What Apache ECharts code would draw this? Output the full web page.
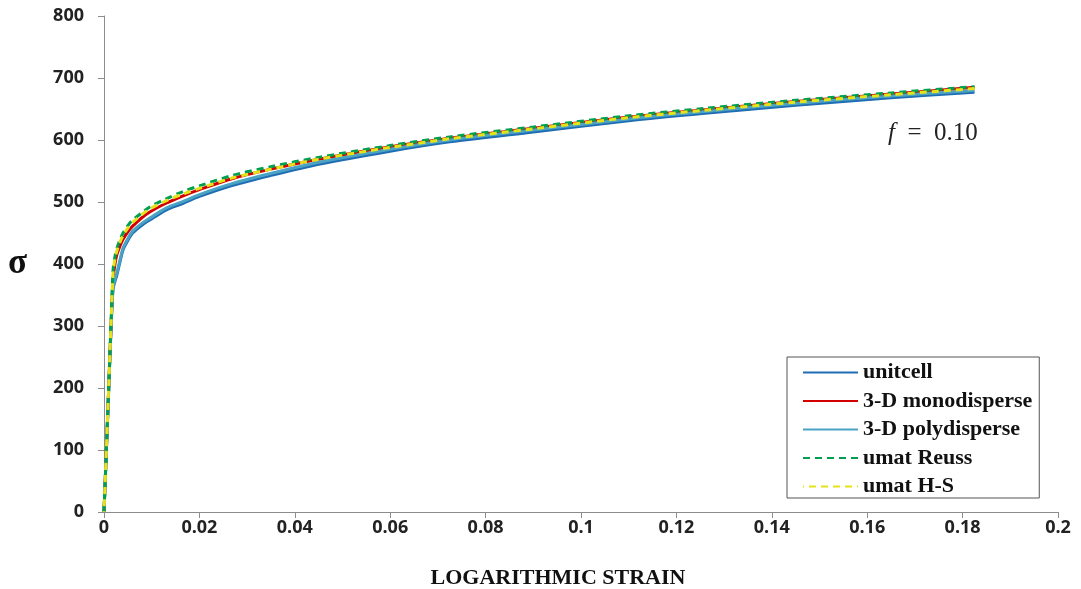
<!DOCTYPE html>
<html>
<head>
<meta charset="utf-8">
<script src="https://cdn.jsdelivr.net/npm/echarts@6/dist/echarts.min.js"></script>
<style>html,body{margin:0;padding:0;background:#fff;}#c{width:1081px;height:589px;}</style>
</head>
<body>
<div id="c"></div>
<script>
const strain = [0, 0.0005, 0.001, 0.0015, 0.0019, 0.0023, 0.0027, 0.0034, 0.004, 0.005, 0.006, 0.008, 0.0096, 0.013, 0.0166, 0.02, 0.027, 0.035, 0.045, 0.06, 0.0725, 0.09, 0.11, 0.126, 0.145, 0.165, 0.1825];
const unitcell      = [0, 100, 200, 300, 360, 372, 382, 405, 423, 438, 450, 463, 471, 487, 498, 509, 527, 543, 561, 582, 597, 613, 631, 643, 656, 668, 677];
const monodisperse  = [0, 100, 203, 305, 375, 400, 415, 430, 440, 452, 461, 475, 484, 498, 510, 520, 538, 553, 569, 589, 603, 619, 637, 649, 662, 674, 685];
const polydisperse  = [0, 100, 200, 302, 362, 375, 386, 408, 426, 441, 453, 466, 474, 490, 501, 512, 530, 546, 564, 585, 600, 616, 634, 646, 659, 671, 680];
const umatReuss     = [0, 100, 205, 310, 390, 412, 425, 440, 450, 462, 471, 483, 492, 505, 517, 526, 543, 557, 572, 591, 605, 621, 639, 651, 664, 676, 686];
const umatHS        = [0, 100, 205, 308, 385, 408, 421, 436, 446, 458, 467, 480, 489, 502, 513, 522, 539, 553, 569, 588, 602, 618, 636, 648, 661, 673, 683];
const seriesNames = ['unitcell', '3-D monodisperse', '3-D polydisperse', 'umat Reuss', 'umat H-S'];
const xTicks = [0, 0.02, 0.04, 0.06, 0.08, 0.1, 0.12, 0.14, 0.16, 0.18, 0.2];
const yTicks = [0, 100, 200, 300, 400, 500, 600, 700, 800];

function pairs(vals){ return strain.map((s,i)=>[s, vals[i]]); }
const styles = [
  {color:'#1F6DB3', type:'solid', width:3, offset:0},
  {color:'#D40000', type:'solid', width:3, offset:0},
  {color:'#4BA3C3', type:'solid', width:3, offset:0},
  {color:'#009E4F', type:[7,5], width:3, offset:0},
  {color:'#E3E31A', type:[7,5], width:3, offset:6}
];
const dataSets = [unitcell, monodisperse, polydisperse, umatReuss, umatHS];

const chart = echarts.init(document.getElementById('c'), null, {renderer:'canvas'});
const labelFont = {fontFamily:'"Open Sans", "Liberation Sans", sans-serif', fontWeight:'bold', fontSize:18, color:'#222'};
chart.setOption({
  animation:false,
  backgroundColor:'#fff',
  grid:{left:104, right:23, top:16, bottom:77, containLabel:false, outerBoundsMode:'none'},
  xAxis:{
    type:'value', min:0, max:0.2, interval:0.02,
    name:'LOGARITHMIC STRAIN', nameLocation:'middle', nameGap:55,
    nameTextStyle:{fontFamily:'"Liberation Serif", serif', fontWeight:'bold', fontSize:22, color:'#111', padding:[0,46,0,0]},
    axisLine:{show:true, lineStyle:{color:'#8c8c8c', width:1}},
    axisTick:{show:true, inside:false, length:6, lineStyle:{color:'#8c8c8c'}},
    splitLine:{show:false},
    axisLabel:Object.assign({margin:7, formatter:v=>String(parseFloat(v.toFixed(2)))}, labelFont)
  },
  yAxis:{
    type:'value', min:0, max:800, interval:100,
    name:'σ', nameLocation:'middle', nameGap:77, nameRotate:0,
    nameTextStyle:{fontFamily:'"Liberation Serif", serif', fontWeight:'bold', fontSize:35, color:'#111', padding:[24,0,0,0]},
    axisLine:{show:true, lineStyle:{color:'#8c8c8c', width:1}},
    axisTick:{show:true, inside:false, length:6, lineStyle:{color:'#8c8c8c'}},
    splitLine:{show:false},
    axisLabel:Object.assign({margin:20}, labelFont)
  },
  legend:{
    show:true, orient:'vertical', left:787, top:357,
    data:seriesNames,
    itemWidth:55, itemHeight:14, itemGap:6.5,
    padding:[4.5,7,0.5,15],
    borderColor:'#555', borderWidth:1, backgroundColor:'#fff',
    itemStyle:{color:'transparent', borderColor:'transparent', borderWidth:0},
    textStyle:{fontFamily:'"Liberation Serif", serif', fontWeight:'bold', fontSize:22, color:'#111'}
  },
  graphic:[{
    type:'text', left:888, top:121,
    style:{
      text:'{i|f}  =  0.10',
      font:'25px "Liberation Serif", serif',
      fill:'#222',
      rich:{i:{fontStyle:'italic', fontFamily:'"Liberation Serif", serif', fontSize:25, fill:'#222'}}
    }
  }],
  series: seriesNames.map((n,i)=>({
    name:n, type:'line', data:pairs(dataSets[i]), showSymbol:false, symbol:'none', smooth:0.3,
    lineStyle:{color:styles[i].color, type:styles[i].type, width:styles[i].width, dashOffset:styles[i].offset},
    itemStyle:{color:styles[i].color},
    z: 2+i
  }))
});
</script>
</body>
</html>
